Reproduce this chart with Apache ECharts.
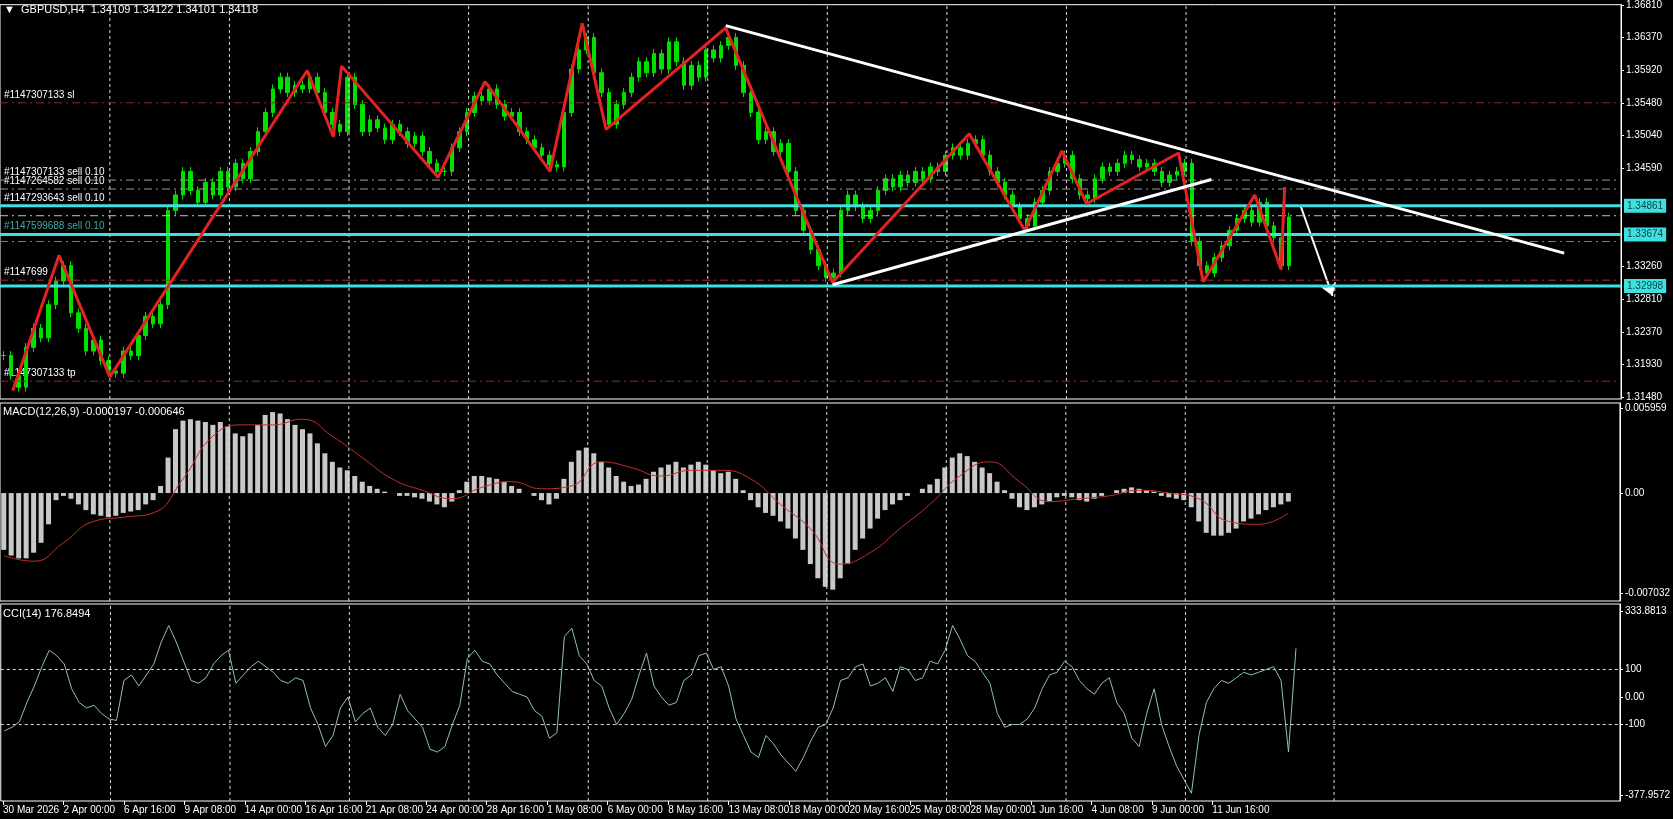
<!DOCTYPE html>
<html>
<head>
<meta charset="utf-8">
<script src="https://cdn.jsdelivr.net/npm/echarts@6/dist/echarts.min.js"></script>
<style>
html,body{margin:0;padding:0;background:#000;}
#chart{width:1673px;height:819px;}
</style>
</head>
<body>
<div id="chart"></div>
<script>
// closes of each bar (8h bars)
var closes = [
1.3205,1.3178,1.3162,1.3216,1.3242,1.3229,1.3274,1.3306,1.3327,1.3263,
1.3242,1.3211,1.3226,1.3198,1.3184,1.3181,1.3211,1.3205,1.3232,1.3258,
1.3248,1.3274,1.3402,1.3423,1.3455,1.3429,1.3413,1.3440,1.3423,1.3455,
1.3434,1.3466,1.3445,1.3482,1.3509,1.3535,1.3567,1.3583,1.3562,1.3572,
1.3567,1.3583,1.3562,1.3535,1.3519,1.3509,1.3583,1.3546,1.3509,1.3525,
1.3514,1.3498,1.3519,1.3509,1.3493,1.3503,1.3482,1.3466,1.3455,1.3455,
1.3487,1.3509,1.3535,1.3557,1.3551,1.3567,1.3546,1.3530,1.3535,1.3509,
1.3498,1.3487,1.3477,1.3464,1.3461,1.3535,1.3594,1.3620,1.3637,1.3589,
1.3562,1.3519,1.3546,1.3562,1.3583,1.3604,1.3589,1.3615,1.3594,1.3631,
1.3604,1.3572,1.3599,1.3583,1.3620,1.3609,1.3626,1.3637,1.3599,1.3562,
1.3535,1.3498,1.3509,1.3482,1.3493,1.3455,1.3402,1.3375,1.3349,1.3327,
1.3311,1.3317,1.3402,1.3423,1.3407,1.3391,1.3402,1.3429,1.3445,1.3434,
1.3450,1.3440,1.3455,1.3445,1.3461,1.3455,1.3477,1.3487,1.3477,1.3493,
1.3498,1.3477,1.3455,1.3440,1.3423,1.3407,1.3391,1.3381,1.3413,1.3429,
1.3455,1.3466,1.3477,1.3445,1.3423,1.3418,1.3445,1.3461,1.3455,1.3466,
1.3477,1.3471,1.3461,1.3466,1.3455,1.3440,1.3450,1.3455,1.3466,1.3360,
1.3327,1.3317,1.3338,1.3354,1.3375,1.3391,1.3402,1.3386,1.3413,1.3381,
1.3365,1.3327,1.3393
];
// macd histogram, in units of 0.0001
var macdHist = [
-40,-44,-46,-46,-42,-35,-22,-5,-2,-4,-8,-12,-15,-16,-17,-16,-14,-13,-12,-8,
-5,5,25,45,51,52,51,50,48,50,47,42,40,42,48,55,57,56,52,48,
45,42,35,28,22,18,16,12,8,5,3,1,0,-2,-2,-3,-4,-6,-8,-10,
-6,2,8,12,12,11,10,8,5,3,0,-2,-5,-8,-4,10,22,30,32,28,
22,18,12,8,5,6,10,15,18,20,22,18,20,22,20,16,14,15,10,2,
-5,-10,-14,-16,-20,-25,-32,-40,-50,-60,-66,-68,-60,-50,-40,-32,-25,-18,-12,-8,
-5,-2,0,3,6,10,18,25,28,26,22,18,14,8,2,-4,-10,-12,-10,-8,
-6,-3,-2,-3,-5,-6,-4,-2,0,2,3,4,3,2,1,-2,-3,-4,-5,-10,
-20,-28,-30,-30,-28,-25,-20,-18,-15,-12,-10,-8,-6
];
// macd signal line [bar, value in 0.0001]
var macdSignal = [
[0,-44],[4,-48],[8,-35],[12,-20],[16,-17],[20,-14],[24,10],[28,40],[32,48],[36,48],
[40,52],[44,40],[48,25],[52,10],[56,2],[60,-4],[64,4],[68,8],[72,3],[76,5],
[80,22],[84,18],[88,12],[92,16],[96,16],[100,10],[104,-8],[108,-25],[112,-50],[116,-42],
[120,-25],[124,-8],[128,12],[132,22],[136,8],[140,-6],[144,-4],[148,-2],[152,2],[156,0],
[160,-4],[164,-20],[168,-22],[172,-14]
];
var cci = [
-123,-110,-90,-20,40,110,170,150,120,30,-20,-40,-30,-60,-80,-85,60,80,40,80,
120,200,260,200,130,60,50,70,120,150,170,50,80,110,130,110,90,60,50,70,
60,-40,-100,-180,-140,-40,0,-90,-60,-40,-110,-140,-100,10,-50,-80,-110,-190,-200,-180,
-100,-30,140,170,130,120,80,50,20,10,0,-50,-70,-150,-130,220,250,150,120,60,
40,-40,-100,-60,-10,80,160,40,0,-30,-20,60,80,150,160,100,110,40,-80,-140,
-200,-220,-140,-170,-210,-240,-270,-220,-160,-110,-100,-40,60,70,110,120,40,50,70,20,
110,100,60,70,130,120,170,260,210,150,130,90,50,-60,-110,-100,-100,-80,-40,30,
80,90,130,110,60,30,10,50,70,-20,-60,-150,-180,-60,30,-100,-180,-250,-300,-350,
-140,-20,30,60,50,70,90,80,90,100,110,60,-200,176.85
];
// zigzag pivots [bar, price]
var zigzag = [
[1.7,1.3157],[7.9,1.3341],[14.7,1.3176],[41.1,1.3592],[44.6,1.3502],[45.7,1.3598],
[58.6,1.3447],[64.9,1.3577],[73.6,1.3455],[77.9,1.3656],[81.1,1.3512],[97.1,1.3650],
[111.4,1.3304],[129.7,1.3506],[137.1,1.3375],[142.1,1.3483],[145.4,1.3411],[157.7,1.3480],
[161,1.3305],[167.9,1.3423],[171.4,1.3322],[171.9,1.3434]
];
var trendUpper = [[97.1,1.3653],[209.3,1.3344]];
var trendLower = [[111.4,1.3301],[162.1,1.3444]];
var arrowLine = [[174,1.3409],[178.3,1.3286]];
// order levels
var orderPrices = [1.35482,1.34432,1.34311,1.33948,1.33598,1.33073,1.31701];
var orderNames = ['#1147307133 sl','#1147307133 sell 0.10','#1147264582 sell 0.10','','','#1147699','#1147307133 tp'];
var orderColors = ['#8b2a2a','#9a9a9a','#9a9a9a','#c8c8b0','#8a7a5a','#a83030','#8b2a2a'];
var cyanPrices = [1.34083,1.33692,1.32993];
var cyanTexts = ['1.34861','1.33674','1.32998'];
var cyanNames = ['#1147293643 sell 0.10','#1147599688 sell 0.10',''];
var priceTicks = [1.3681,1.3637,1.3592,1.3548,1.3504,1.3459,1.3326,1.3281,1.3237,1.3193,1.3148];
var macdTicks = [0.005959,0,-0.007032];
var cciTickPos = [313,100,0,-100,-356];
var cciTickText = ['333.8813','100','0.00','-100','-377.9572'];
var timeLabels = ['30 Mar 2026','2 Apr 00:00','6 Apr 16:00','9 Apr 08:00','14 Apr 00:00','16 Apr 16:00',
'21 Apr 08:00','24 Apr 00:00','28 Apr 16:00','1 May 08:00','6 May 00:00','8 May 16:00','13 May 08:00',
'18 May 00:00','20 May 16:00','25 May 08:00','28 May 00:00','1 Jun 16:00','4 Jun 08:00','9 Jun 00:00','11 Jun 16:00'];
var gridBars = [14.7,30.7,46.7,62.7,78.7,94.7,110.7,126.7,142.7,158.7,178.6];

var XMAX = 216.9;
var candles = closes.map(function(c,i){
	var o = i>0 ? closes[i-1] : c;
	return [i+0.5, o, c, Math.min(o,c)-0.0006, Math.max(o,c)+0.0006];
});
var labelPos = timeLabels.map(function(t,k){ return 0.3+8.1*k; });

var MyEchart = echarts.init(document.getElementById('chart'));
var font = 'Liberation Sans';
var dotted = {color:'#ddd',type:[3,3],width:1};
function xa(idx,show){
	return {
		type:'value', gridIndex:idx, min:0, max:XMAX,
		axisLine:{show:false,onZero:false}, splitLine:{show:false},
		axisTick:show ? {show:true,customValues:labelPos,length:4,lineStyle:{color:'#fff'}} : {show:false},
		axisLabel:show ? {show:true,customValues:labelPos,color:'#fff',fontFamily:font,fontSize:10,align:'left',margin:4,
			showMinLabel:true,hideOverlap:false,
			formatter:function(v){ var k=labelPos.indexOf(v); return k>=0?timeLabels[k]:''; }} : {show:false}
	};
}
function ya(idx,min,max,ticks,fmt){
	return {type:'value',gridIndex:idx,position:'right',min:min,max:max,splitLine:{show:false},
		axisLine:{show:true,onZero:false,lineStyle:{color:'#fff'}},
		axisTick:{show:true,customValues:ticks,length:3,lineStyle:{color:'#fff'}},
		axisLabel:{customValues:ticks,color:'#fff',fontFamily:font,fontSize:10,margin:5,showMinLabel:true,showMaxLabel:true,formatter:fmt}};
}
function vgrid(xi,yi,ymin,ymax){
	return gridBars.map(function(b){
		return {type:'line',xAxisIndex:xi,yAxisIndex:yi,symbol:'none',silent:true,
			lineStyle:dotted,data:[[b,ymin],[b,ymax]]};
	});
}
var series = [];
series = series.concat(vgrid(0,0,1.31459,1.36814),vgrid(1,1,-0.0076,0.00634),vgrid(2,2,-378,338));
// order levels
orderPrices.forEach(function(p,i){
	series.push({type:'line',xAxisIndex:0,yAxisIndex:0,symbol:'none',silent:true,
		lineStyle:{color:orderColors[i],type:[8,4,2,4],width:1},data:[[0,p],[XMAX,p]]});
});
cyanPrices.forEach(function(p,i){
	series.push({type:'line',xAxisIndex:0,yAxisIndex:0,symbol:'none',silent:true,
		lineStyle:{color:'#3ee0e0',width:3},data:[[0,p],[XMAX,p]],
		endLabel:{show:true,formatter:cyanTexts[i],color:'#0a4848',backgroundColor:'#3ee0e0',
			fontFamily:font,fontSize:10,padding:[2,3],distance:3}});
});
series.push(
	{type:'candlestick',xAxisIndex:0,yAxisIndex:0,barWidth:4,
		itemStyle:{color:'#00e000',color0:'#00e000',borderColor:'#00e000',borderColor0:'#00e000',borderWidth:1},
		data:candles},
	{type:'line',xAxisIndex:0,yAxisIndex:0,data:zigzag,symbol:'none',lineStyle:{color:'#e52222',width:3}},
	{type:'line',xAxisIndex:0,yAxisIndex:0,data:trendUpper,symbol:'none',lineStyle:{color:'#fff',width:3}},
	{type:'line',xAxisIndex:0,yAxisIndex:0,data:trendLower,symbol:'none',lineStyle:{color:'#fff',width:3}},
	{type:'lines',coordinateSystem:'cartesian2d',xAxisIndex:0,yAxisIndex:0,silent:true,
		symbol:['none','arrow'],symbolSize:12,
		lineStyle:{color:'#fff',width:2,opacity:1},
		data:[{coords:arrowLine}]},
	{type:'bar',xAxisIndex:1,yAxisIndex:1,barWidth:5,itemStyle:{color:'#c8c8c8'},
		data:macdHist.map(function(v,i){return [i+0.5,v/10000];})},
	{type:'line',xAxisIndex:1,yAxisIndex:1,symbol:'none',smooth:true,lineStyle:{color:'#c0302a',width:1},
		data:macdSignal.map(function(d){return [d[0]+0.5,d[1]/10000];})},
	{type:'line',xAxisIndex:2,yAxisIndex:2,symbol:'none',silent:true,lineStyle:dotted,data:[[0,100],[XMAX,100]]},
	{type:'line',xAxisIndex:2,yAxisIndex:2,symbol:'none',silent:true,lineStyle:dotted,data:[[0,-100],[XMAX,-100]]},
	{type:'line',xAxisIndex:2,yAxisIndex:2,symbol:'none',lineStyle:{color:'#8fc0b8',width:1},
		data:cci.map(function(v,i){return [i+0.5,v];})}
);
var option = {
	backgroundColor:'#000',
	animation:false,
	grid:[
		{left:0,top:1,width:1621,height:398,show:true,borderColor:'#fff',borderWidth:1},
		{left:0,top:403,width:1621,height:198,show:true,borderColor:'#fff',borderWidth:1},
		{left:0,top:604,width:1621,height:197,show:true,borderColor:'#fff',borderWidth:1}
	],
	graphic:[
		{type:'text',left:4,top:4,style:{text:'▼  GBPUSD,H4  1.34109 1.34122 1.34101 1.34118',fill:'#fff',font:'11px '+font}},
		{type:'text',left:3,top:406,style:{text:'MACD(12,26,9) -0.000197 -0.000646',fill:'#fff',font:'11px '+font}},
		{type:'text',left:3,top:608,style:{text:'CCI(14) 176.8494',fill:'#fff',font:'11px '+font}}
	],
	xAxis:[xa(0,false),xa(1,false),xa(2,true)],
	yAxis:[
		ya(0,1.31459,1.36814,priceTicks,function(v){return v.toFixed(5);}),
		ya(1,-0.0076,0.00634,macdTicks,function(v){return v===0?'0.00':v.toFixed(6);}),
		ya(2,-378,338,cciTickPos,function(v){var k=cciTickPos.indexOf(v);return k>=0?cciTickText[k]:'';})
	],
	series:series
};
MyEchart.setOption(option);
// order names written just above their lines
var names = [];
orderPrices.forEach(function(p,i){ if(orderNames[i]) names.push([orderNames[i],p,'#fff']); });
cyanPrices.forEach(function(p,i){ if(cyanNames[i]) names.push([cyanNames[i],p,i===0?'#fff':'#4aa']); });
MyEchart.setOption({graphic:option.graphic.concat(names.map(function(n){
	var y = MyEchart.convertToPixel({xAxisIndex:0,yAxisIndex:0},[0,n[1]])[1];
	return {type:'text',left:4,top:y-13,silent:true,style:{text:n[0],fill:n[2],font:'10px '+font}};
}))});
</script>
</body>
</html>
